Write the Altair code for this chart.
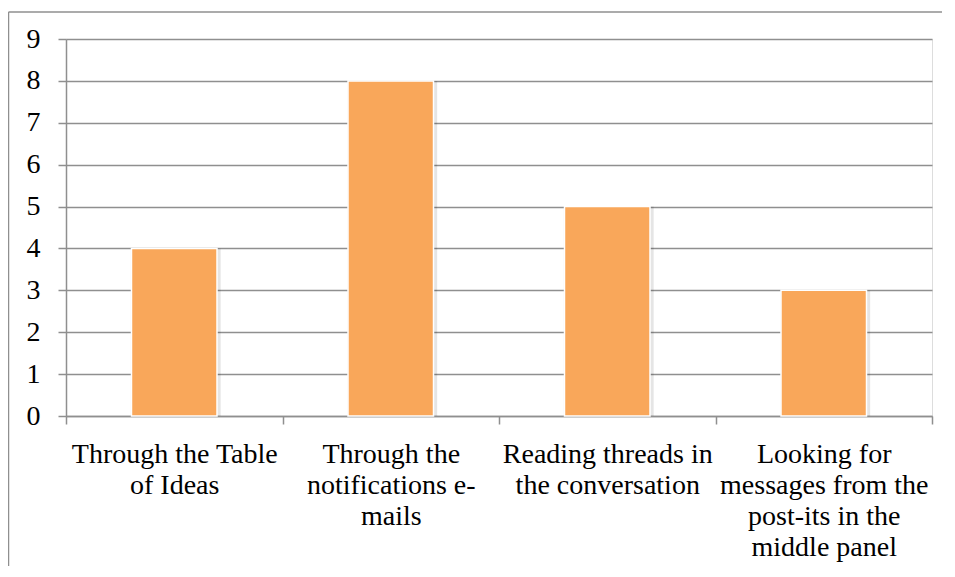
import altair as alt
import pandas as pd

# Data
categories = [
    "Through the Table|of Ideas",
    "Through the|notifications e-|mails",
    "Reading threads in|the conversation",
    "Looking for|messages from the|post-its in the|middle panel",
]
counts = [4, 8, 5, 3]
y_ticks = [0, 1, 2, 3, 4, 5, 6, 7, 8, 9]

df = pd.DataFrame({"category": categories, "count": counts})

FONT = "Liberation Serif"
GRID = "#8f8f8f"
BAR = "#F9A75A"

x_enc = alt.X(
    "category:N",
    sort=None,
    title=None,
    scale=alt.Scale(paddingInner=0, paddingOuter=0),
    axis=alt.Axis(
        labelAngle=0,
        labelExpr="split(datum.label, '|')",
        labelFont=FONT,
        labelFontSize=28,
        labelColor="#000000",
        labelLineHeight=31,
        labelPadding=16,
        labelLimit=400,
        labelOverlap=False,
        labelBaseline="top",
        tickBand="extent",
        tickSize=8,
        tickColor=GRID,
        tickWidth=1.5,
        domainColor=GRID,
        domainWidth=1.5,
        grid=False,
    ),
)

y_enc = alt.Y(
    "count:Q",
    title=None,
    scale=alt.Scale(domain=[0, 9], nice=False),
    axis=alt.Axis(
        values=y_ticks,
        labelFont=FONT,
        labelFontSize=28,
        labelColor="#000000",
        labelPadding=18,
        tickSize=8,
        tickColor=GRID,
        tickWidth=1.5,
        domainColor=GRID,
        domainWidth=1.5,
        gridColor=GRID,
        gridWidth=1.4,
        grid=True,
    ),
)

base = alt.Chart(df)

shadow = base.mark_bar(
    width=alt.RelativeBandSize(0.415), color="#000000", opacity=0.10, xOffset=1.5
).encode(x=x_enc, y=y_enc)

bars = base.mark_bar(
    width=alt.RelativeBandSize(0.395), color=BAR, stroke="#ffffff", strokeWidth=1.5
).encode(x=x_enc, y=y_enc)

frame_data = alt.Data(values=[{"a": 1}])
frame_left = alt.Chart(frame_data).mark_rule(color=GRID, strokeWidth=1.5).encode(
    x=alt.value(-57.5), y=alt.value(-27), y2=alt.value(540)
)
frame_top = alt.Chart(frame_data).mark_rule(color=GRID, strokeWidth=1.5).encode(
    x=alt.value(-57.5), x2=alt.value(900), y=alt.value(-27)
)

chart = (
    alt.layer(shadow, bars, frame_left, frame_top)
    .properties(
        width=866,
        height=377,
        autosize=alt.AutoSizeParams(type="none"),
        padding={"left": 58, "top": 31, "right": 10, "bottom": 150},
    )
    .configure_view(stroke=None)
    .configure(background="#ffffff")
)

chart.save("out.html", embed_options={"renderer": "svg", "actions": False})
